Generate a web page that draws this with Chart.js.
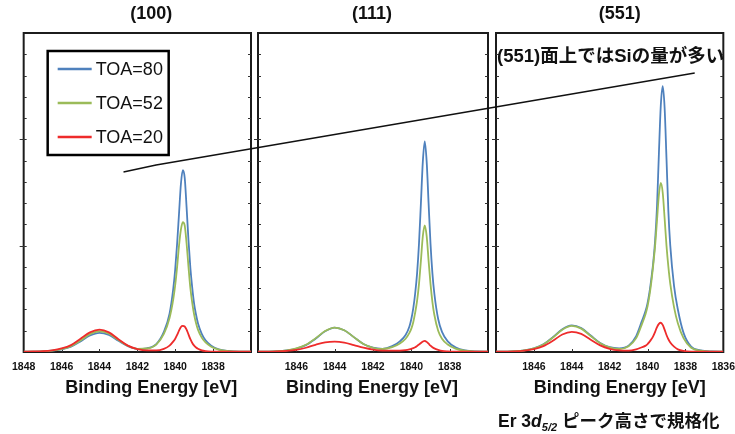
<!DOCTYPE html>
<html><head><meta charset="utf-8">
<script src="https://cdn.jsdelivr.net/npm/chart.js@4.4.1/dist/chart.umd.min.js"></script>
<style>
html,body{margin:0;padding:0;background:#fff;overflow:hidden;width:735px;height:434px;}
#wrap{position:relative;width:735px;height:434px;overflow:hidden;}
#wrap canvas{position:absolute;top:0;}
</style></head><body><div id="wrap"></div>
<script>
// ---------------- data ----------------
const PANELS = ['(100)', '(111)', '(551)'];
const SERIES_LABELS = ['TOA=80', 'TOA=52', 'TOA=20'];
const SERIES_COLORS = ['#4f81bd', '#9bbb59', '#ee2b2b'];

const X_EV = [1848,1847.5,1847,1846.5,1846,1845.5,1845,1844.5,1844,1843.5,1843,1842.5,1842,1841.5,1841,1840.6,1840.3,1840.1,1840.0,1839.9,1839.8,1839.7,1839.6,1839.5,1839.4,1839.3,1839.2,1839.1,1839.0,1838.9,1838.8,1838.6,1838.4,1838.1,1837.7,1837.2,1836.6,1836];

const P100_TOA80 = [0.003,0.004,0.006,0.012,0.025,0.05,0.1,0.155,0.18,0.16,0.105,0.055,0.03,0.035,0.075,0.19,0.36,0.6,0.78,1.02,1.3,1.58,1.71,1.64,1.36,1.05,0.79,0.6,0.45,0.35,0.27,0.17,0.11,0.06,0.025,0.01,0.004,0.003];
const P100_TOA52 = [0.003,0.004,0.006,0.013,0.028,0.055,0.108,0.168,0.195,0.172,0.112,0.058,0.03,0.033,0.07,0.17,0.32,0.5,0.63,0.8,1.0,1.15,1.22,1.19,1.02,0.8,0.6,0.46,0.35,0.27,0.21,0.135,0.09,0.05,0.022,0.009,0.004,0.003];
const P100_TOA20 = [0.003,0.005,0.008,0.016,0.033,0.065,0.125,0.185,0.21,0.185,0.12,0.06,0.028,0.015,0.015,0.03,0.06,0.1,0.125,0.16,0.2,0.235,0.245,0.24,0.21,0.165,0.12,0.085,0.06,0.042,0.03,0.015,0.008,0.004,0.003,0.003,0.003,0.003];

const P111_TOA80 = [0.003,0.004,0.007,0.015,0.032,0.065,0.125,0.195,0.23,0.205,0.14,0.075,0.04,0.03,0.055,0.1,0.16,0.24,0.31,0.41,0.55,0.74,1.02,1.4,1.79,1.98,1.79,1.4,1.02,0.74,0.55,0.31,0.19,0.1,0.045,0.015,0.005,0.003];
const P111_TOA52 = [0.003,0.004,0.007,0.016,0.034,0.068,0.128,0.197,0.23,0.205,0.14,0.075,0.04,0.028,0.045,0.08,0.125,0.18,0.22,0.28,0.37,0.48,0.64,0.86,1.09,1.19,1.09,0.86,0.64,0.47,0.35,0.2,0.125,0.07,0.032,0.012,0.004,0.003];
const P111_TOA20 = [0.003,0.003,0.005,0.01,0.02,0.04,0.068,0.09,0.097,0.088,0.065,0.04,0.022,0.013,0.012,0.013,0.018,0.025,0.03,0.036,0.045,0.057,0.07,0.085,0.098,0.105,0.095,0.078,0.06,0.045,0.034,0.02,0.01,0.005,0.003,0.003,0.003,0.003];

const P551_TOA80 = [0.003,0.004,0.007,0.016,0.035,0.072,0.138,0.215,0.25,0.225,0.155,0.085,0.045,0.035,0.06,0.15,0.29,0.39,0.46,0.56,0.69,0.84,1.05,1.37,1.87,2.32,2.5,2.3,1.82,1.32,1.0,0.62,0.4,0.18,0.05,0.015,0.005,0.003];
const P551_TOA52 = [0.003,0.004,0.007,0.016,0.034,0.07,0.135,0.21,0.245,0.22,0.15,0.082,0.043,0.028,0.055,0.13,0.26,0.36,0.43,0.53,0.66,0.82,1.0,1.24,1.48,1.59,1.5,1.26,1.0,0.8,0.64,0.42,0.27,0.13,0.04,0.012,0.004,0.003];
const P551_TOA20 = [0.003,0.004,0.006,0.013,0.028,0.055,0.105,0.165,0.19,0.17,0.115,0.062,0.03,0.015,0.012,0.025,0.045,0.06,0.075,0.095,0.12,0.15,0.19,0.235,0.265,0.275,0.255,0.21,0.16,0.12,0.09,0.05,0.025,0.01,0.004,0.003,0.003,0.003];

const X_TICKS_100 = [1848, 1846, 1844, 1842, 1840, 1838];
const X_TICKS_111 = [1846, 1844, 1842, 1840, 1838];
const X_TICKS_551 = [1846, 1844, 1842, 1840, 1838, 1836];

const AXIS_TITLE = 'Binding Energy [eV]';
const NOTE_TEXT = '(551)面上ではSiの量が多い';
// annotation line, in data coordinates of the panels
const NOTE_LINE_PANEL = [0, 0, 2];
const NOTE_LINE_X = [1842.73, 1841.01, 1837.51];
const NOTE_LINE_Y = [1.693, 1.759, 2.624];
const CAPTION = ['Er 3', 'd', '5/2', ' ピーク高さで規格化'];

// ---------------- layout ----------------
const SERIES = [
  [P100_TOA80, P100_TOA52, P100_TOA20],
  [P111_TOA80, P111_TOA52, P111_TOA20],
  [P551_TOA80, P551_TOA52, P551_TOA20]
];
const SHOWN_TICKS = [X_TICKS_100, X_TICKS_111, X_TICKS_551];
const BOX_LEFT = [21, 258, 496];
const BOX_W = 230;
const BOX_TOP = 33, BOX_BOTTOM = 352;
const PADX = 18, CANVAS_H = 400;
const TEXT_SHIFT = [14, -1, 10];
const FONT_LAT = "'Liberation Sans', Arial, sans-serif";
const FONT_JP = "'Liberation Sans', 'Noto Sans CJK JP', sans-serif";

const wrap = document.getElementById('wrap');
const charts = [];

const decor = {
  id: 'decor',
  beforeDatasetsDraw(chart, args, opts) {
    const {ctx, chartArea: a, scales} = chart;
    ctx.save();
    ctx.strokeStyle = '#1c1c1c';
    ctx.lineWidth = 2;
    ctx.strokeRect(a.left, a.top, a.right - a.left, a.bottom - a.top);
    ctx.lineWidth = 1;
    ctx.strokeStyle = '#333';
    for (let i = 1; i < 15; i++) {
      const v = i * 0.2;
      const y = Math.round(scales.y.getPixelForValue(v)) + 0.5;
      const major = (i % 5 === 0);
      ctx.beginPath();
      ctx.moveTo(a.left - (major ? 4 : 0), y); ctx.lineTo(a.left + 3, y);
      ctx.moveTo(a.right - 3, y); ctx.lineTo(a.right, y);
      ctx.stroke();
    }
    for (let v = 1846; v > 1836; v -= 2) {
      const x = Math.round(scales.x.getPixelForValue(v)) + 0.5;
      ctx.beginPath();
      ctx.moveTo(x, a.bottom); ctx.lineTo(x, a.bottom - 3);
      ctx.stroke();
    }
    ctx.restore();
  },
  afterDraw(chart, args, opts) {
    const {ctx, chartArea: a} = chart;
    const cx = (a.left + a.right) / 2 + opts.shift;
    ctx.save();
    ctx.fillStyle = '#111';
    ctx.textAlign = 'center';
    ctx.textBaseline = 'middle';
    ctx.font = 'bold 18px ' + FONT_LAT;
    ctx.fillText(opts.title, cx, a.top - 19);
    ctx.fillText(AXIS_TITLE, cx, a.bottom + 36);
    if (opts.legend) {
      const lx = a.left + 24, ly = a.top + 18;
      ctx.lineWidth = 2.5;
      ctx.strokeStyle = '#000';
      ctx.strokeRect(lx, ly, 121, 104);
      ctx.textAlign = 'left';
      ctx.font = '18px ' + FONT_LAT;
      chart.data.datasets.forEach((ds, i) => {
        const y = ly + 18 + i * 34;
        ctx.strokeStyle = ds.borderColor;
        ctx.lineWidth = 2.5;
        ctx.beginPath();
        ctx.moveTo(lx + 10, y); ctx.lineTo(lx + 44, y);
        ctx.stroke();
        ctx.fillStyle = '#111';
        ctx.fillText(ds.label, lx + 48, y + 1);
      });
    }
    ctx.restore();
  }
};

PANELS.forEach((name, p) => {
  const cv = document.createElement('canvas');
  const w = BOX_W + 2 * PADX;
  cv.width = w; cv.height = CANVAS_H;
  cv.style.left = (BOX_LEFT[p] - PADX) + 'px';
  cv.style.width = w + 'px'; cv.style.height = CANVAS_H + 'px';
  wrap.appendChild(cv);
  const datasets = SERIES[p].map((vals, s) => ({
    label: SERIES_LABELS[s],
    data: X_EV.map((x, i) => ({x: x, y: vals[i]})),
    borderColor: SERIES_COLORS[s],
    borderWidth: 1.8,
    pointRadius: 0,
    fill: false,
    cubicInterpolationMode: 'monotone',
    order: 3 - s
  }));
  const shown = SHOWN_TICKS[p];
  const ch = new Chart(cv, {
    type: 'line',
    data: {datasets},
    options: {
      responsive: false,
      animation: false,
      devicePixelRatio: 1,
      layout: {padding: {left: PADX, right: PADX, top: BOX_TOP, bottom: 0}},
      plugins: {
        legend: {display: false},
        tooltip: {enabled: false},
        decor: {title: name, shift: TEXT_SHIFT[p], legend: p === 0}
      },
      scales: {
        x: {
          type: 'linear', reverse: true, min: 1836, max: 1848,
          grid: {display: false, drawTicks: false},
          border: {display: false},
          ticks: {
            stepSize: 2, autoSkip: false, maxRotation: 0, padding: 9,
            color: '#111', font: {family: FONT_LAT, size: 10.5, weight: 'bold'},
            callback: (v) => shown.includes(v) ? String(v) : ''
          },
          afterFit: (scale) => { scale.height = CANVAS_H - BOX_BOTTOM; }
        },
        y: {display: false, min: 0, max: 3}
      }
    },
    plugins: [decor]
  });
  charts.push(ch);
});

// overlay: annotation line, note and caption
const ov = document.createElement('canvas');
ov.width = 735; ov.height = 434;
ov.style.left = '0px'; ov.style.width = '735px'; ov.style.height = '434px';
wrap.appendChild(ov);
const octx = ov.getContext('2d');
octx.strokeStyle = '#111';
octx.lineWidth = 1.4;
octx.beginPath();
NOTE_LINE_X.forEach((x, i) => {
  const c = charts[NOTE_LINE_PANEL[i]];
  const px = BOX_LEFT[NOTE_LINE_PANEL[i]] - PADX + c.scales.x.getPixelForValue(x);
  const py = c.scales.y.getPixelForValue(NOTE_LINE_Y[i]);
  if (i === 0) octx.moveTo(px, py); else octx.lineTo(px, py);
});
octx.stroke();

octx.fillStyle = '#111';
octx.textBaseline = 'alphabetic';
octx.textAlign = 'left';
octx.font = 'bold 18.5px ' + FONT_JP;
octx.fillText(NOTE_TEXT, 497, 62);

let cx = 498;
const cy = 427;
octx.font = 'bold 17.5px ' + FONT_JP;
octx.fillText(CAPTION[0], cx, cy); cx += octx.measureText(CAPTION[0]).width;
octx.font = 'italic bold 17.5px ' + FONT_LAT;
octx.fillText(CAPTION[1], cx, cy); cx += octx.measureText(CAPTION[1]).width;
octx.font = 'italic bold 11px ' + FONT_LAT;
octx.fillText(CAPTION[2], cx, cy + 4); cx += octx.measureText(CAPTION[2]).width;
octx.font = 'bold 17.5px ' + FONT_JP;
octx.fillText(CAPTION[3], cx, cy);
</script>
</body></html>
